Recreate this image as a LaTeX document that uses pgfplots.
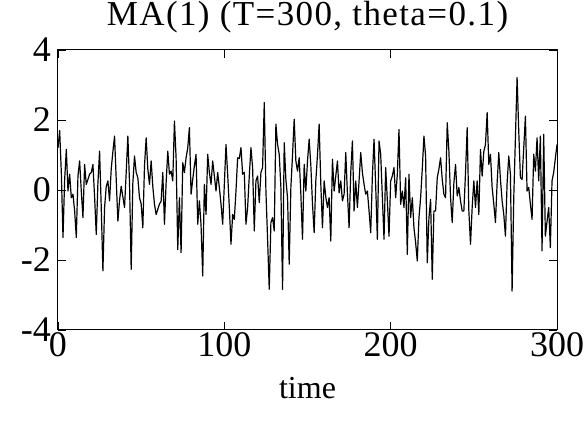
\documentclass[border=0pt]{standalone}
\usepackage{fontspec}
\setmainfont{Liberation Serif}
\usepackage{pgfplots}
\pgfplotsset{compat=1.18}

\pgfplotstableread{
t v
0 1.2
1 1.7
2 0.5
3 -1.36
4 0.3
5 1.16
6 -0.03
7 0.45
8 -0.22
9 -0.12
10 -0.6
11 -1.36
12 0.4
13 0.83
14 -0.03
15 -0.79
16 0.73
17 0.16
18 0.3
19 0.45
20 0.5
21 0.73
22 -0.2
23 -1.27
24 0.2
25 1.11
26 -0.5
27 -2.31
28 -0.5
29 0.1
30 0.26
31 -0.31
32 0.6
33 1.1
34 1.54
35 0.3
36 -0.89
37 -0.3
38 0.11
39 -0.2
40 -0.5
41 0.5
42 1.54
43 0.2
44 -2.27
45 0.2
46 0.97
47 0.5
48 0.35
49 -0.22
50 -0.4
51 -1.08
52 0.69
53 1.49
54 0.6
55 0.16
56 0.83
57 0.1
58 -0.41
59 -0.7
60 -0.55
61 -0.4
62 -0.32
63 0.5
64 -0.98
65 0.2
66 1.11
67 0.45
68 0.54
69 0.26
70 1.97
71 0.92
72 -1.7
73 -0.22
74 -1.79
75 0.78
76 0.5
77 0.92
78 1.2
79 1.78
80 -0.12
81 0.3
82 0.69
83 1.02
84 -0.98
85 -0.31
86 -1.0
87 -2.46
88 0.16
89 -0.7
90 1.02
91 0.5
92 0.16
93 0.83
94 0.4
95 -0.03
96 0.5
97 0.07
98 -0.4
99 -0.98
100 0.16
101 1.3
102 0.45
103 -0.5
104 -1.55
105 -0.7
106 -0.84
107 -0.03
108 0.92
109 0.9
110 1.21
111 0.45
112 0.5
113 -0.98
114 -0.5
115 0.4
116 1.21
117 0.64
118 -1.17
119 0.26
120 0.4
121 -0.36
122 0.5
123 0.64
124 2.5
125 -0.03
126 -1.4
127 -2.84
128 -0.93
129 -0.79
130 -1.17
131 1.88
132 1.3
133 1.02
134 0.07
135 -2.84
136 1.35
137 0.3
138 -0.22
139 -2.12
140 0.07
141 1.0
142 2.02
143 0.83
144 0.54
145 0.92
146 -0.12
147 -1.41
148 0.73
149 -0.03
150 0.83
151 1.45
152 0.7
153 -0.4
154 -1.22
155 0.26
156 1.0
157 1.88
158 0.16
159 -1.08
160 0.26
161 -0.2
162 -0.5
163 -0.22
164 -1.46
165 0.88
166 -0.03
167 0.4
168 0.83
169 -0.08
170 0.26
171 -0.31
172 -0.12
173 1.07
174 -0.1
175 -1.08
176 0.5
177 1.4
178 -0.6
179 0.26
180 -0.5
181 0.26
182 1.07
183 0.5
184 0.16
185 -0.12
186 -0.03
187 -0.6
188 -1.22
189 0.4
190 1.45
191 0.1
192 -1.41
193 1.4
194 1.02
195 -0.2
196 -1.41
197 0.64
198 -0.3
199 -1.32
200 0.26
201 0.4
202 0.64
203 -0.22
204 0.45
205 1.73
206 -0.41
207 -0.03
208 -0.5
209 0.35
210 -1.84
211 0.45
212 -0.79
213 -0.22
214 -1.08
215 -1.5
216 -2.03
217 -0.8
218 -0.22
219 0.6
220 1.54
221 0.97
222 -2.08
223 -0.8
224 -0.27
225 -2.55
226 -0.6
227 -0.6
228 0.35
229 0.6
230 0.92
231 0.3
232 -0.12
233 -0.22
234 1.92
235 1.11
236 -0.22
237 -0.93
238 0.2
239 0.73
240 -0.17
241 0.07
242 -0.31
243 -0.6
244 -0.6
245 0.5
246 1.78
247 -0.6
248 -1.55
249 -0.5
250 0.26
251 -0.5
252 0.26
253 -0.7
254 1.16
255 0.4
256 1.1
257 1.3
258 2.21
259 0.73
260 1.02
261 0.07
262 -0.4
263 -0.93
264 0.2
265 1.07
266 0.3
267 -0.31
268 -0.7
269 -1.32
270 0.2
271 0.97
272 0.45
273 -2.89
274 -0.22
275 1.5
276 3.21
277 1.68
278 0.35
279 0.3
280 1.2
281 2.11
282 -0.03
283 0.07
284 -0.4
285 -0.84
286 1.02
287 0.54
288 1.49
289 0.26
290 1.54
291 -1.74
292 1.59
293 -1.32
294 -0.9
295 -0.5
296 -1.65
297 0.26
298 0.5
299 0.9
300 1.3
}\series

\begin{document}
\begin{tikzpicture}
\begin{axis}[
  scale only axis,
  width=249.5pt, height=140pt,
  xmin=0, xmax=300, ymin=-4, ymax=4,
  xtick={0,100,200,300}, xticklabels={0,100,200,300},
  ytick={-4,-2,0,2,4}, yticklabels={-4,-2,0,2,4},
  tick align=inside,
  major tick length=4pt,
  tick style={black, line width=0.4pt},
  axis line style={black, line width=0.5pt},
  tick label style={font=\fontsize{18}{18}\selectfont},
  xticklabel style={yshift=2pt},
  title={MA(1) (T=300, theta=0.1)},
  title style={font=\fontsize{17.5}{18}\selectfont\addfontfeature{LetterSpace=4}, yshift=-1pt},
  xlabel={time},
  xlabel style={font=\fontsize{16}{16}\selectfont, yshift=-3pt},
]
\addplot[black, line width=0.6pt, line join=round] table[x=t, y=v] {\series};
\end{axis}
\pgfresetboundingbox
\path[use as bounding box] (current axis.south west) ++(-29pt,-46pt) rectangle ([xshift=15pt, yshift=25pt]current axis.north east);
\end{tikzpicture}
\end{document}
